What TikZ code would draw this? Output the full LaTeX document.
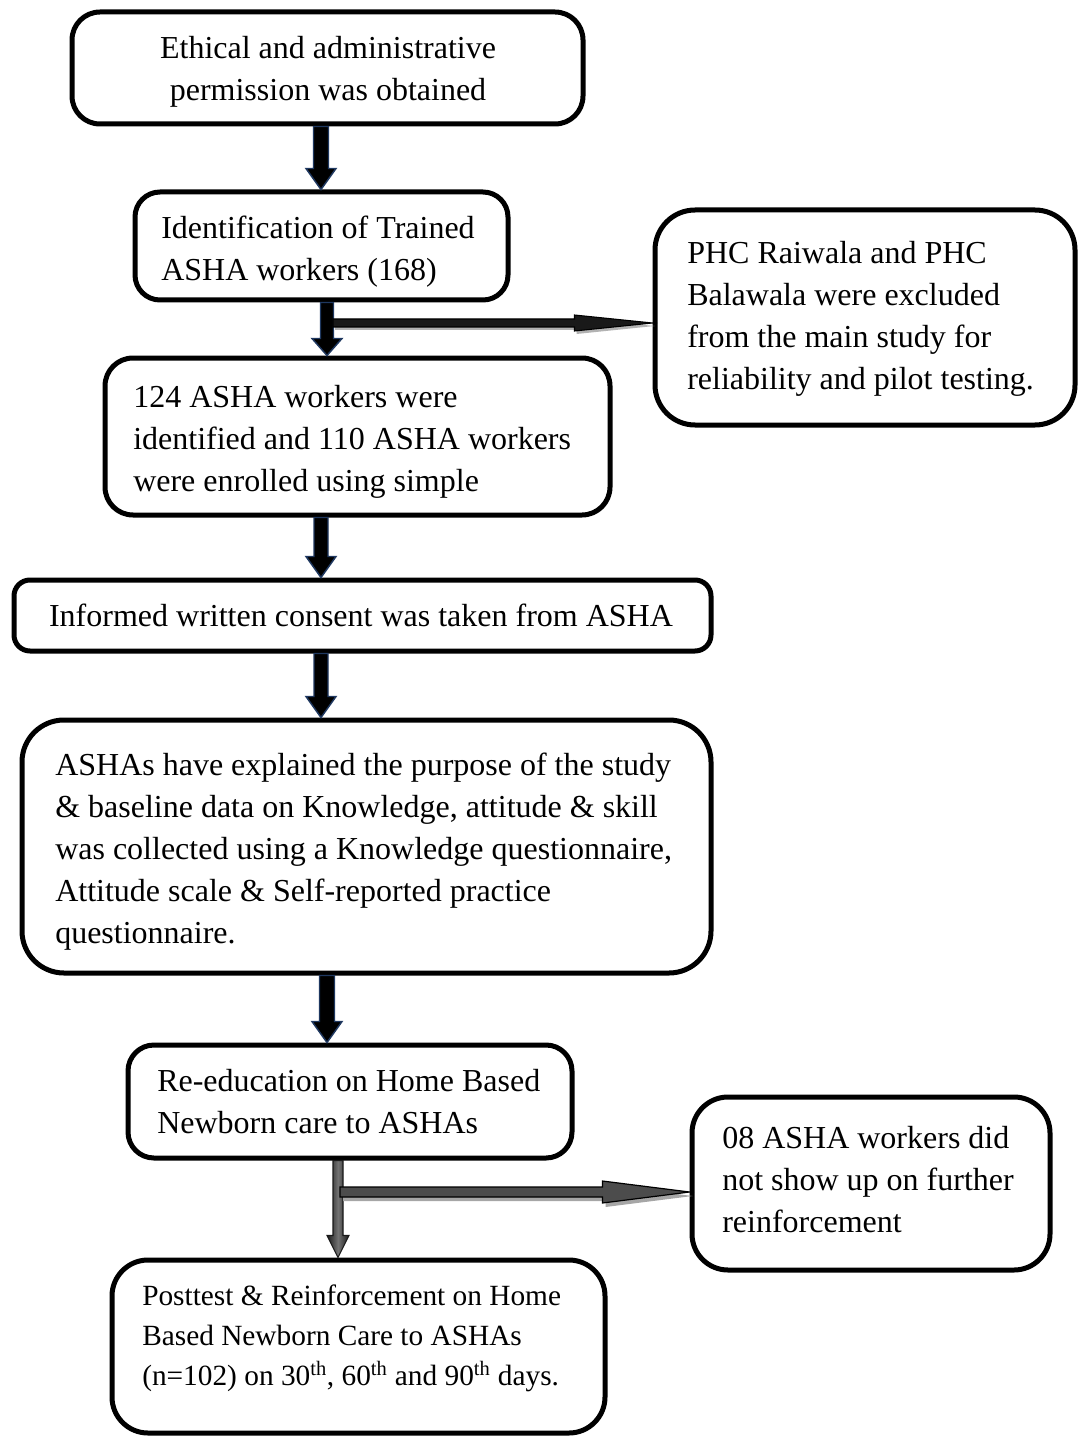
\documentclass[tikz,border=0pt]{standalone}
\usepackage{fontspec}
\setmainfont{Liberation Serif}
\usetikzlibrary{calc,fit}
\definecolor{navyc}{RGB}{31,56,96}
% vertical block arrow: x, from node, to node, style, half shaft, half head, head length
\newcommand{\vblock}[7]{%
  \coordinate (vbX) at (#1,0);
  \coordinate (vbT) at (vbX |- #2.south);
  \coordinate (vbB) at (vbX |- #3.north);
  \draw[#4] ($(vbT)+(-#5,0)$) -- ($(vbT)+(#5,0)$) -- ($(vbB)+(#5,-#7)$) -- ($(vbB)+(#6,-#7)$) -- (vbB) -- ($(vbB)+(-#6,-#7)$) -- ($(vbB)+(-#5,-#7)$) -- cycle;}
% horizontal arrow polygon between hbS and hbT: style, dx, dy, half shaft, half head, head length
\newcommand{\hpoly}[6]{%
  \path[#1] ($(hbS)+(#2,#3-#4)$) -- ($(hbT)+(#2-#6,#3-#4)$) -- ($(hbT)+(#2-#6,#3-#5)$) -- ($(hbT)+(#2,#3)$) -- ($(hbT)+(#2-#6,#3+#5)$) -- ($(hbT)+(#2-#6,#3+#4)$) -- ($(hbS)+(#2,#3+#4)$) -- cycle;}
\tikzset{
  box/.style={draw=black, line width=3.75pt, inner sep=0pt},
  txt/.style={inner sep=0pt, font=\fontsize{24}{31.5}\selectfont, align=left,
    execute at begin node=\strut, execute at end node=\strut},
  txtc/.style={txt, align=center},
  txts/.style={txt, font=\fontsize{22}{30}\selectfont},
  bluearrow/.style={draw=navyc, line width=1.1pt, fill=black, line join=miter},
  grayarrow/.style={draw=black!90, line width=0.8pt, left color=black!90, right color=black!90, middle color=black!55},
}
\begin{document}
\begin{tikzpicture}[x=0.75pt, y=-0.75pt]
\useasboundingbox (0,0) rectangle (1080,1437);

% boxes
\node[box, rounded corners=21pt, fit={(72,12) (583,124)}] (A) {};
\node[box, rounded corners=18.75pt, fit={(135,192) (508,300)}] (B) {};
\node[box, rounded corners=30pt, fit={(655,210) (1075,425)}] (C) {};
\node[box, rounded corners=21pt, fit={(105,358) (610,515)}] (D) {};
\node[box, rounded corners=12pt, fit={(14,580) (711,651)}] (E) {};
\node[box, rounded corners=31.5pt, fit={(22,720) (711,973)}] (F) {};
\node[box, rounded corners=19.5pt, fit={(128,1045) (572,1158)}] (G) {};
\node[box, rounded corners=27pt, fit={(692,1097) (1050,1270)}] (H) {};
\node[box, rounded corners=27pt, fit={(112,1260) (605,1433)}] (I) {};

% texts
\node[txtc, anchor=center] (At) at (328,75) {Ethical and administrative\\permission was obtained};
\node[txt, anchor=west] (Bt) at (161,255) {Identification of Trained\\ASHA workers (168)};
\node[txt, anchor=west] (Ct) at (687,322) {PHC Raiwala and PHC\\Balawala were excluded\\from the main study for\\reliability and pilot testing.};
\node[txt, anchor=west] (Dt) at (133,445) {124 ASHA workers were\\identified and 110 ASHA workers\\were enrolled using simple};
\node[txtc, anchor=center] (Et) at (361,618) {Informed written consent was taken from ASHA};
\node[txt, anchor=west] (Ft) at (55,855) {ASHAs have explained the purpose of the study\\\& baseline data on Knowledge, attitude \& skill\\was collected using a Knowledge questionnaire,\\Attitude scale \& Self-reported practice\\questionnaire.};
\node[txt, anchor=west] (Gt) at (157,1108) {Re-education on Home Based\\Newborn care to ASHAs};
\node[txt, anchor=west] (Ht) at (722,1186) {08 ASHA workers did\\not show up on further\\reinforcement};
\node[txts, anchor=west] (It) at (142,1341) {Posttest \& Reinforcement on Home\\Based Newborn Care to ASHAs\\(n=102) on 30\textsuperscript{th}, 60\textsuperscript{th} and 90\textsuperscript{th} days.};

% vertical block arrows
\vblock{321}{A}{B}{bluearrow}{7.5}{15}{21}
\vblock{327}{B}{D}{bluearrow}{6.5}{15}{17}
\vblock{321}{D}{E}{bluearrow}{7}{15}{21}
\vblock{321}{E}{F}{bluearrow}{7}{15}{21}
\vblock{327}{F}{G}{bluearrow}{7.5}{15}{21}
\vblock{338}{G}{I}{grayarrow}{5}{11}{22}

% horizontal arrow to C
\coordinate (t1) at ($(C.west)+(0,5.5)$);
\coordinate (hbX) at (333,0);
\coordinate (hbS) at (hbX |- t1);
\coordinate (hbT) at (t1);
\hpoly{fill=gray!60}{2}{3}{4}{8}{78}
\hpoly{draw=black, line width=0.8pt, fill=black!90, line join=miter}{0}{0}{4}{8}{78}

% horizontal arrow to H
\coordinate (t2) at ($(H.west)+(0,8.5)$);
\coordinate (hbX) at (340,0);
\coordinate (hbS) at (hbX |- t2);
\coordinate (hbT) at (t2);
\hpoly{fill=gray!70}{3}{4}{5}{11}{87}
\hpoly{draw=black, line width=0.9pt, fill=black!70, line join=miter}{0}{0}{5}{11}{87}
\end{tikzpicture}
\end{document}
